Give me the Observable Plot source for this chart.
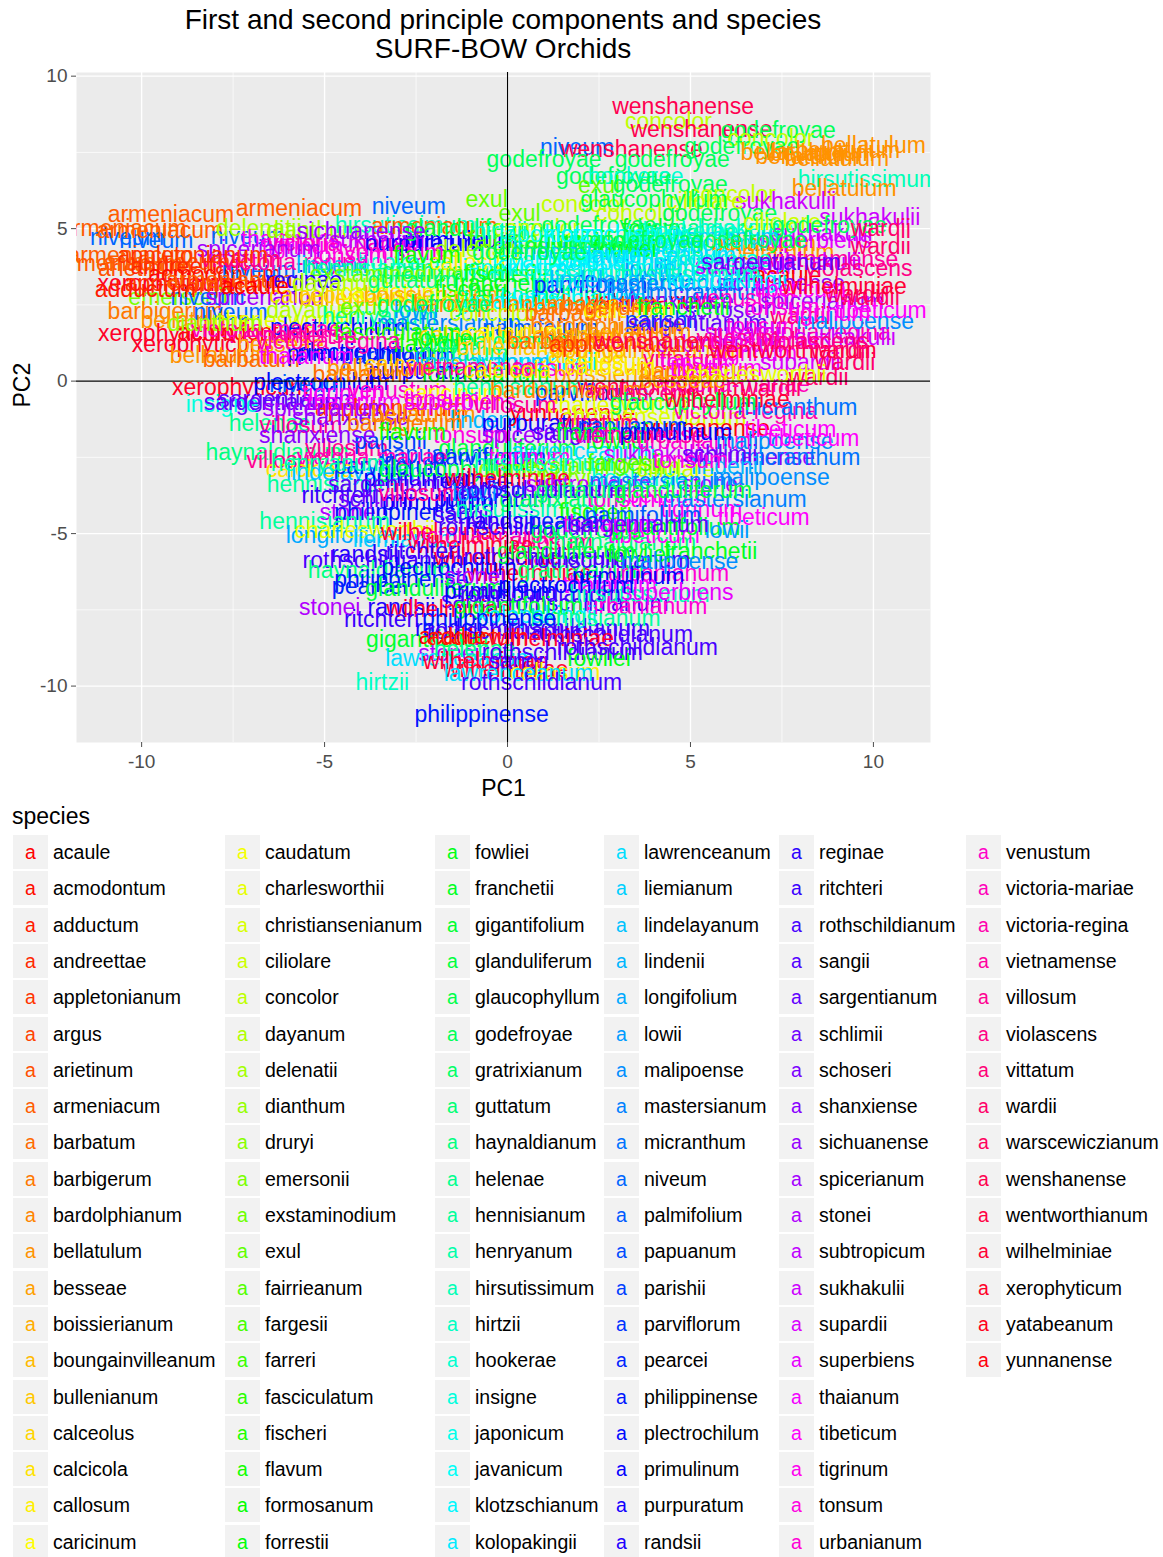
<!DOCTYPE html>
<html><head><meta charset="utf-8">
<script src="https://cdn.jsdelivr.net/npm/d3@7"></script>
<script src="https://cdn.jsdelivr.net/npm/@observablehq/plot@0.6"></script>
<style>
body{margin:0;background:#fff;font-family:"Liberation Sans",Arial,sans-serif;}
#wrap{position:relative;width:1163px;height:1557px;overflow:hidden;}
#title{position:absolute;left:0;top:0;width:1006px;text-align:center;font-size:28px;line-height:29px;padding-top:5px;color:#000;}
#chart{position:absolute;left:0;top:66px;}
#legend{position:absolute;left:0;top:800px;width:1163px;height:757px;}
.lt{position:absolute;left:12px;top:3px;font-size:23px;line-height:26px;color:#000;}
.key{position:absolute;width:35px;height:34px;background:#F2F2F2;text-align:center;line-height:34px;font-size:19.5px;}
.lab{position:absolute;font-size:19.5px;line-height:34px;white-space:nowrap;color:#000;}
</style></head>
<body><div id="wrap">
<div id="title">First and second principle components and species<br>SURF-BOW Orchids</div>
<div id="chart"></div>
<div id="legend"></div>
</div>
<script>
const species = ["acaule","acmodontum","adductum","andreettae","appletonianum","argus","arietinum","armeniacum","barbatum","barbigerum","bardolphianum","bellatulum","besseae","boissierianum","boungainvilleanum","bullenianum","calceolus","calcicola","callosum","caricinum",
"caudatum","charlesworthii","christiansenianum","ciliolare","concolor","dayanum","delenatii","dianthum","druryi","emersonii","exstaminodium","exul","fairrieanum","fargesii","farreri","fasciculatum","fischeri","flavum","formosanum","forrestii",
"fowliei","franchetii","gigantifolium","glanduliferum","glaucophyllum","godefroyae","gratrixianum","guttatum","haynaldianum","helenae","hennisianum","henryanum","hirsutissimum","hirtzii","hookerae","insigne","japonicum","javanicum","klotzschianum","kolopakingii",
"lawrenceanum","liemianum","lindelayanum","lindenii","longifolium","lowii","malipoense","mastersianum","micranthum","niveum","palmifolium","papuanum","parishii","parviflorum","pearcei","philippinense","plectrochilum","primulinum","purpuratum","randsii",
"reginae","ritchteri","rothschildianum","sangii","sargentianum","schlimii","schoseri","shanxiense","sichuanense","spicerianum","stonei","subtropicum","sukhakulii","supardii","superbiens","thaianum","tibeticum","tigrinum","tonsum","urbanianum",
"venustum","victoria-mariae","victoria-regina","vietnamense","villosum","violascens","vittatum","wardii","warscewiczianum","wenshanense","wentworthianum","wilhelminiae","xerophyticum","yatabeanum","yunnanense"];

const xTicks = [-10,-5,0,5,10];
const yTicks = [-10,-5,0,5,10];
const xMinor = [-7.5,-2.5,2.5,7.5];
const yMinor = [-7.5,-2.5,2.5,7.5];

// [species, PC1, PC2]
const labelsTop = [
["wenshanense",4.8,9.0],["concolor",4.4,8.5],["wenshanense",5.3,8.25],["godefroyae",7.4,8.2],["concolor",7.2,7.95],
["niveum",1.9,7.65],["wenshanense",3.4,7.6],["godefroyae",6.4,7.7],["bellatulum",7.8,7.5],["bellatulum",10.0,7.73],
["bellatulum",9.3,7.55],["bellatulum",8.6,7.45],["bellatulum",9.0,7.3],["bellatulum",8.2,7.35],["godefroyae",1.0,7.27],
["godefroyae",4.5,7.27],["godefroyae",2.9,6.7],["hookerae",3.5,6.7],["exul",2.5,6.4],["godefroyae",4.45,6.45],
["hirsutissimum",9.85,6.6],["bellatulum",9.2,6.3],["concolor",6.15,6.1],["concolor",2.1,5.8],["sukhakulii",7.6,5.9],
["exul",-0.57,5.96],["ciliolare",5.4,5.9],["glaucophyllum",4.0,5.95],
["armeniacum",-9.2,5.47],["armeniacum",-5.7,5.64],["niveum",-2.7,5.73],["exul",0.33,5.5],["concolor",3.6,5.5],
["godefroyae",5.8,5.5],["sukhakulii",9.9,5.35]
];
const labelsUpper = [
["armeniacum",-10.5,5.0],["niveum",-10.4,4.7],["niveum",-9.6,4.6],["armeniacum",-9.5,4.95],["niveum",-7.1,4.75],
["delenatii",-6.8,5.0],["thaianum",-6.0,4.65],["tigrinum",-5.6,4.4],["dianthum",-5.3,4.95],["victoria-mariae",-4.5,4.5],
["sukhakulii",-3.5,4.6],["hirsutissimum",-2.8,5.1],["purpuratum",-2.3,4.5],["armeniacum",-2.0,5.05],["primulinum",-1.3,4.6],
["glanduliferum",-0.9,5.0],["delenatii",-0.8,4.3],["fairrieanum",0.5,4.6],["concolor",0.8,5.0],["glanduliferum",1.5,4.4],
["godefroyae",2.5,5.1],["gigantifolium",2.6,4.6],["hennisianum",3.5,4.4],["fowliei",4.0,5.0],["insigne",4.2,4.7],
["javanicum",4.8,4.3],["haynaldianum",5.5,5.0],["lawrenceanum",5.5,4.5],["hookerae",6.5,5.0],["bellatulum",7.0,4.5],
["ciliolare",7.5,5.2],["bellatulum",7.5,4.2],["superbiens",8.4,4.6],["sukhakulii",8.6,4.85],["godefroyae",8.8,5.1],
["wardii",10.2,5.0],["wardii",10.2,4.4],["vietnamense",8.9,4.0],["japonicum",1.2,4.8],["klotzschianum",3.0,4.8],
["hirtzii",-0.2,4.9],["lindelayanum",2.0,4.2],["sichuanense",-4.0,4.9],["spicerianum",-6.8,4.3],["venustum",-3.1,4.2],
["liemianum",6.0,4.7],["hookerae",5.0,4.9],["godefroyae",6.6,4.6],["fowliei",3.2,4.3],["insigne",2.2,4.0],["godefroyae",3.8,4.6],
["armeniacum",-10.6,3.85],["armeniacum",-10.3,4.1],["arietinum",-9.9,3.7],["armeniacum",-9.3,3.9],["andreettae",-8.8,3.75],
["acmodontum",-8.0,3.5],["niveum",-6.8,3.61],["victoria-regina",-5.8,3.9],["lindenii",-4.8,3.8],["hennisianum",-3.8,3.7],
["hookerae",-2.8,3.9],["gratrixianum",-1.7,3.6],["callosum",-0.9,3.9],["japonicum",0.2,3.7],["javanicum",1.0,3.95],
["klotzschianum",2.0,3.7],["kolopakingii",3.0,3.9],["lowii",3.8,3.65],["insigne",4.5,3.9],["liemianum",5.4,3.7],
["sukhakulii",6.5,3.75],["sukhakulii",8.3,3.9],["acaule",7.65,3.45],["violascens",9.6,3.68],["vittatum",-7.3,4.0],
["appletonianum",-8.6,4.1],["tonsum",-4.3,4.1],["flavum",-2.2,4.1],["fischeri",-0.2,3.5],["hirsutissimum",1.5,3.5],
["javanicum",2.6,4.1],["lawrenceanum",4.2,4.1],["hookerae",5.9,4.0],["sargentianum",7.2,3.9],["exstaminodium",-3.3,3.5],
["godefroyae",0.6,4.2],["hirsutissimum",5.0,3.5],
["xerophyticum",-9.34,3.19],["appletonianum",-8.4,3.2],["armeniacum",-7.6,3.3],["argus",-8.0,3.05],["reginae",-5.57,3.28],
["emersonii",-9.0,2.73],["niveum",-8.2,2.73],["spicerianum",-6.56,2.73],["calceolus",-5.2,2.8],["bullenianum",-4.0,2.7],
["caudatum",-3.2,2.9],["boissierianum",-2.0,2.8],["fischeri",-1.0,3.0],["franchetii",-0.2,3.2],["glaucophyllum",0.6,2.8],
["hirtzii",1.4,3.2],["parviflorum",2.27,3.12],["lindelayanum",3.0,3.3],["yatabeanum",3.9,2.6],["shanxiense",4.6,2.6],
["micranthum",5.5,2.9],["venustum",6.5,2.7],["sichuanense",7.46,3.19],["spicerianum",8.6,2.6],["wardii",9.5,2.85],
["wardii",9.9,2.73],["adductum",-9.9,3.0],["acaule",-6.9,3.1],["dayanum",-4.6,3.2],["guttatum",-2.6,3.3],
["ciliolare",-1.5,2.6],["javanicum",0.2,2.6],["klotzschianum",1.8,2.7],["lowii",3.3,2.9],["mastersianum",4.4,3.2],
["kolopakingii",6.0,3.3],["tibeticum",8.0,3.0],["wilhelminiae",9.2,3.1],["barbatum",2.8,2.5],["bardolphianum",-0.5,2.5]
];
const labelsMiddle = [
["barbigerum",-9.34,2.27],["bellatulum",-8.6,2.0],["niveum",-7.57,2.24],["acmodontum",-7.2,1.6],["charlesworthii",-6.1,2.0],
["dayanum",-5.3,2.3],["plectrochilum",-4.64,1.75],["henryanum",-3.5,2.1],["lowii",-2.5,2.3],["mastersianum",-1.6,1.9],
["concolor",-0.4,2.2],["palmifolium",0.9,1.72],["barbatum",1.8,2.2],["bardolphianum",2.7,1.8],["callosum",3.3,2.3],
["parishii",4.2,2.0],["sargentianum",5.2,1.9],["schoseri",6.0,2.3],["tonsum",7.0,1.8],["wardii",8.0,2.1],
["victoria-regina",8.5,1.6],["sukhakulii",9.23,1.42],["malipoense",9.5,1.94],["tibeticum",10.2,2.3],["xerophyticum",-9.32,1.55],
["victoria-mariae",-6.6,1.7],["vietnamense",-5.9,1.5],["exul",-4.0,2.4],["fasciculatum",-3.0,1.6],["godefroyae",-2.0,2.5],
["calceolus",-1.1,1.5],["caricinum",0.2,1.6],["bullenianum",1.4,1.5],["barbigerum",2.3,2.4],["bellatulum",3.6,1.6],
["franchetii",4.8,2.4],["supardii",6.5,1.6],["tonsum",7.5,2.4],["tigrinum",8.8,2.2],["dianthum",-8.0,1.9],
["xerophyticum",-8.4,1.19],["bellatulum",-7.8,0.83],["barbatum",-7.0,0.7],["besseae",-6.2,1.2],["primulinum",-4.5,0.9],
["plectrochilum",-3.9,0.95],["parviflorum",-3.0,0.8],["flavum",-2.2,1.2],["guttatum",-1.2,0.9],["haynaldianum",-0.3,1.3],
["kolopakingii",0.8,0.6],["calcicola",2.0,0.85],["callosum",2.8,0.6],["boungainvilleanum",3.8,1.0],["vittatum",4.8,0.7],
["subtropicum",5.8,1.2],["tigrinum",6.8,0.9],["supardii",8.0,0.6],["wardii",9.1,1.0],["wardii",9.23,0.6],
["thaianum",-5.5,0.8],["victoria-regina",-4.9,1.3],["calceolus",-2.6,0.55],["fowliei",-1.7,1.4],["lindelayanum",-0.7,0.6],
["bullenianum",0.3,1.1],["barbatum",1.3,1.3],["bellatulum",2.4,1.4],["appletonianum",3.2,1.2],["wenshanense",4.3,1.3],
["tonsum",5.2,0.6],["villosum",6.3,1.4],["urbanianum",7.2,1.3],["wentworthianum",7.8,1.0],["violascens",8.4,1.3],
["xerophyticum",-7.3,-0.2],["sargentianum",-6.0,-0.6],["niveum",-5.5,-0.1],["plectrochilum",-5.1,-0.05],["barbatum",-4.0,0.2],
["venustum",-3.0,-0.3],["purpuratum",-2.2,0.3],["caricinum",-1.5,-0.4],["formosanum",-0.6,0.2],["hennisianum",0.3,-0.2],
["tonsum",1.2,0.4],["parviflorum",2.3,-0.4],["boissierianum",3.2,0.2],["wentworthianum",4.2,-0.2],["barbigerum",5.2,0.3],
["victoria-mariae",6.2,-0.1],["wardii",7.2,-0.25],["wardii",8.5,0.1],["tigrinum",-4.5,-0.4],["bellatulum",-3.5,0.4],
["vietnamense",-1.0,0.45],["calcicola",0.0,0.35],["bardolphianum",1.6,-0.3],["callosum",2.8,0.45],["violascens",3.7,-0.4],
["besseae",4.8,0.0],["tibeticum",5.7,0.4],["charlesworthii",6.8,0.2],
["insigne",-7.8,-0.77],["sargentianum",-6.4,-0.7],["helenae",-6.5,-1.4],["villosum",-5.65,-1.45],["shanxiense",-4.3,-1.2],
["thaianum",-4.2,-0.7],["appletonianum",-3.2,-0.9],["bellatulum",-2.3,-1.1],["superbiens",-1.3,-0.7],["lindenii",-0.6,-1.3],
["yunnanense",1.78,-1.06],["charlesworthii",3.0,-0.8],["christiansenianum",4.0,-1.2],["yunnanense",5.46,-1.55],["victoria-regina",6.5,-1.0],
["micranthum",7.92,-0.87],["tibeticum",7.73,-1.6],["spicerianum",-5.0,-0.9],["barbigerum",-2.8,-1.4],["tonsum",-1.8,-0.6],
["villosum",0.2,-0.8],["purpuratum",0.9,-1.4],["vittatum",2.5,-1.4],["papuanum",3.4,-1.5],["glaucophyllum",4.8,-0.7],
["wilhelminiae",6.0,-0.6]
];
const labelsLower = [
["haynaldianum",-6.3,-2.34],["villosum",-6.0,-2.6],["villosum",-4.4,-2.2],["parishii",-3.2,-2.0],["papuanum",-2.0,-2.4],
["tonsum",-1.0,-1.8],["glanduliferum",0.0,-2.2],["spicerianum",1.0,-1.8],["lawrenceanum",2.0,-2.3],["fowliei",3.0,-2.0],
["sukhakulii",4.0,-2.4],["urbanianum",5.2,-2.0],["sichuanense",6.64,-2.5],["malipoense",7.3,-2.0],["micranthum",8.0,-2.5],
["tibeticum",8.36,-1.88],["shanxiense",-5.2,-1.8],["victoria-mariae",-3.7,-2.5],["flavum",-2.6,-1.7],["parviflorum",-0.5,-2.5],
["tigrinum",0.6,-2.5],["sangii",1.5,-1.7],["franchetii",2.6,-1.7],["vietnamense",3.6,-1.8],["primulinum",4.6,-1.7],
["schlimii",5.8,-2.4],
["calcicola",-5.4,-2.9],["hennisianum",-4.8,-3.4],["lindelayanum",-4.2,-3.0],["parviflorum",-3.2,-2.8],["primulinum",-2.4,-3.2],
["glaucophyllum",-1.5,-2.9],["parishii",-0.5,-3.5],["dianthum",0.5,-2.9],["druryi",1.5,-3.2],["exstaminodium",2.6,-2.8],
["hookerae",3.6,-3.2],["ciliolare",4.6,-2.9],["stonei",5.6,-3.4],["lindenii",6.0,-2.8],["malipoense",7.2,-3.16],
["henryanum",-4.9,-2.7],["sargentianum",-3.0,-3.4],["reginae",-1.0,-3.3],["wilhelminiae",0.0,-3.2],["hirsutissimum",1.0,-2.7],
["subtropicum",2.2,-3.4],["fargesii",3.2,-2.7],["mastersianum",4.2,-3.3],["tonsum",5.0,-2.6],
["ritchteri",-4.6,-3.74],["stonei",-4.3,-4.3],["schlimii",-3.6,-3.9],["philippinense",-2.9,-4.3],["primulinum",-1.9,-4.0],
["sangii",-1.2,-4.4],["purpuratum",-0.4,-3.9],["hirsutissimum",0.5,-4.2],["gratrixianum",1.5,-3.9],["fischeri",2.4,-4.3],
["tonsum",3.2,-3.9],["tibeticum",4.2,-3.74],["tigrinum",5.3,-4.2],["mastersianum",6.2,-3.9],["tibeticum",7.0,-4.46],
["villosum",-2.4,-3.7],["lowii",-0.9,-3.7],["rothschildianum",0.9,-3.6],["guttatum",2.0,-3.6],["palmifolium",3.7,-4.4],
["glanduliferum",4.8,-3.6],
["hennisianum",-5.0,-4.6],["longifolium",-4.56,-5.05],["charlesworthii",-3.9,-4.9],["liemianum",-2.8,-5.2],["wilhelminiae",-1.75,-4.98],
["victoria-mariae",-0.6,-5.1],["rothschildianum",0.3,-4.8],["villosum",1.2,-5.3],["godefroyae",2.2,-4.9],["haynaldianum",3.2,-5.3],
["tibeticum",4.0,-5.05],["gigantifolium",4.6,-4.8],["lowii",6.0,-4.9],["franchetii",5.55,-5.6],["wilhelminiae",-1.0,-5.4],
["randsii",-0.2,-4.6],["pearcei",1.6,-4.6],["thaianum",2.8,-4.7],["sargentianum",3.6,-4.7]
];
const labelsBottom = [
["randsii",-3.9,-5.7],["rothschildianum",-3.4,-5.9],["haynaldianum",-3.5,-6.2],["philippinense",-2.9,-6.52],["wilhelminiae",-0.3,-5.8],
["wilhelminiae",0.6,-6.3],["rothschildianum",1.0,-5.8],["gratrixianum",2.0,-6.2],["rothschildianum",2.8,-5.9],["fowliei",3.6,-5.7],
["urbanianum",4.4,-6.3],["malipoense",4.7,-5.93],["ritchteri",-2.3,-5.6],["plectrochilum",-1.6,-6.1],["stonei",-0.9,-6.4],
["glanduliferum",1.6,-5.6],["primulinum",3.3,-6.4],
["pearcei",-3.77,-6.75],["stonei",-4.86,-7.44],["randsii",-2.9,-7.44],["glanduliferum",-2.0,-6.8],["sangii",-1.0,-7.2],
["primulinum",-0.2,-6.9],["rothschildianum",0.9,-7.0],["rothschildianum",2.2,-7.3],["thaianum",2.8,-6.7],["hirsutissimum",3.6,-7.0],
["urbanianum",3.8,-7.4],["superbiens",4.64,-6.95],["wilhelminiae",-1.6,-7.5],["gigantifolium",0.3,-7.4],["plectrochilum",1.6,-6.7],
["ritchteri",-3.44,-7.83],["gigantifolium",-2.1,-8.48],["randsii",-1.6,-8.1],["acaule",-1.5,-8.38],["rothschildianum",0.0,-8.2],
["kolopakingii",0.8,-7.7],["rothschildianum",1.7,-8.1],["hennisianum",2.4,-7.8],["rothschildianum",2.87,-8.32],["adductum",-0.8,-8.4],
["philippinense",-0.5,-7.8],["wilhelminiae",1.2,-8.45],
["stonei",-1.6,-8.95],["lawrenceanum",-1.3,-9.1],["helenae",-0.9,-8.8],["wilhelminiae",-0.6,-9.2],["wilhelminiae",-0.05,-9.46],
["sangii",0.3,-9.2],["rothschildianum",1.5,-8.9],["fowliei",2.5,-9.1],["rothschildianum",3.55,-8.74],["callosum",1.3,-9.55],
["lawrenceanum",0.3,-9.6],
["hirtzii",-3.42,-9.89],["rothschildianum",0.93,-9.9],["philippinense",-0.71,-10.93]
];

const colorOf = s => {
  const i = species.indexOf(s);
  return d3.hsl(360 * i / species.length, 1, 0.5).formatHex();
};
const rows = [...labelsTop, ...labelsUpper, ...labelsMiddle, ...labelsLower, ...labelsBottom]
  .map(([s, x, y]) => ({s, x, y, c: colorOf(s)}));

const chart = Plot.plot({
  width: 1163, height: 734,
  marginLeft: 76, marginRight: 233, marginTop: 6, marginBottom: 58,
  style: {fontFamily: "Liberation Sans, Arial, sans-serif", fontSize: "19px", background: "transparent", overflow: "visible"},
  x: {domain: [-11.78, 11.56]},
  y: {domain: [-11.85, 10.12]},
  color: {type: "identity"},
  marks: [
    Plot.frame({fill: "#EBEBEB", stroke: null}),
    Plot.gridX(xMinor, {stroke: "#fff", strokeOpacity: 1, strokeWidth: 0.7}),
    Plot.gridY(yMinor, {stroke: "#fff", strokeOpacity: 1, strokeWidth: 0.7}),
    Plot.gridX(xTicks, {stroke: "#fff", strokeOpacity: 1, strokeWidth: 1.4}),
    Plot.gridY(yTicks, {stroke: "#fff", strokeOpacity: 1, strokeWidth: 1.4}),
    Plot.text(rows, {x: "x", y: "y", text: "s", fill: "c", fontSize: 23, clip: true}),
    Plot.ruleX([0], {stroke: "#000", strokeWidth: 1.1}),
    Plot.ruleY([0], {stroke: "#000", strokeWidth: 1.1}),
    Plot.axisX(xTicks, {tickSize: 5, tickPadding: 7, fontSize: 19, color: "#4D4D4D", label: null, tickFormat: d => String(d)}),
    Plot.axisY(yTicks, {tickSize: 5, tickPadding: 4, fontSize: 19, color: "#4D4D4D", label: null, tickFormat: d => String(d)}),
    Plot.text(["PC1"], {frameAnchor: "bottom", lineAnchor: "middle", dy: 46, text: d => d, fontSize: 23, fill: "#000"}),
    Plot.text(["PC2"], {frameAnchor: "left", lineAnchor: "middle", dx: -54, rotate: -90, text: d => d, fontSize: 23, fill: "#000"})
  ]
});
document.getElementById("chart").appendChild(chart);

// legend
const legend = document.getElementById("legend");
const lt = document.createElement("div");
lt.className = "lt"; lt.textContent = "species";
legend.appendChild(lt);
const colLeft = [13, 225, 435, 604, 779, 966];
const perCol = 20;
species.forEach((s, i) => {
  const c = Math.floor(i / perCol), r = i % perCol;
  const top = 35 + r * 36.3;
  const k = document.createElement("div");
  k.className = "key";
  k.style.left = colLeft[c] + "px"; k.style.top = top + "px";
  k.style.color = colorOf(s);
  k.textContent = "a";
  legend.appendChild(k);
  const l = document.createElement("div");
  l.className = "lab";
  l.style.left = (colLeft[c] + 40) + "px"; l.style.top = top + "px";
  l.textContent = s;
  legend.appendChild(l);
});
</script>
</body></html>
